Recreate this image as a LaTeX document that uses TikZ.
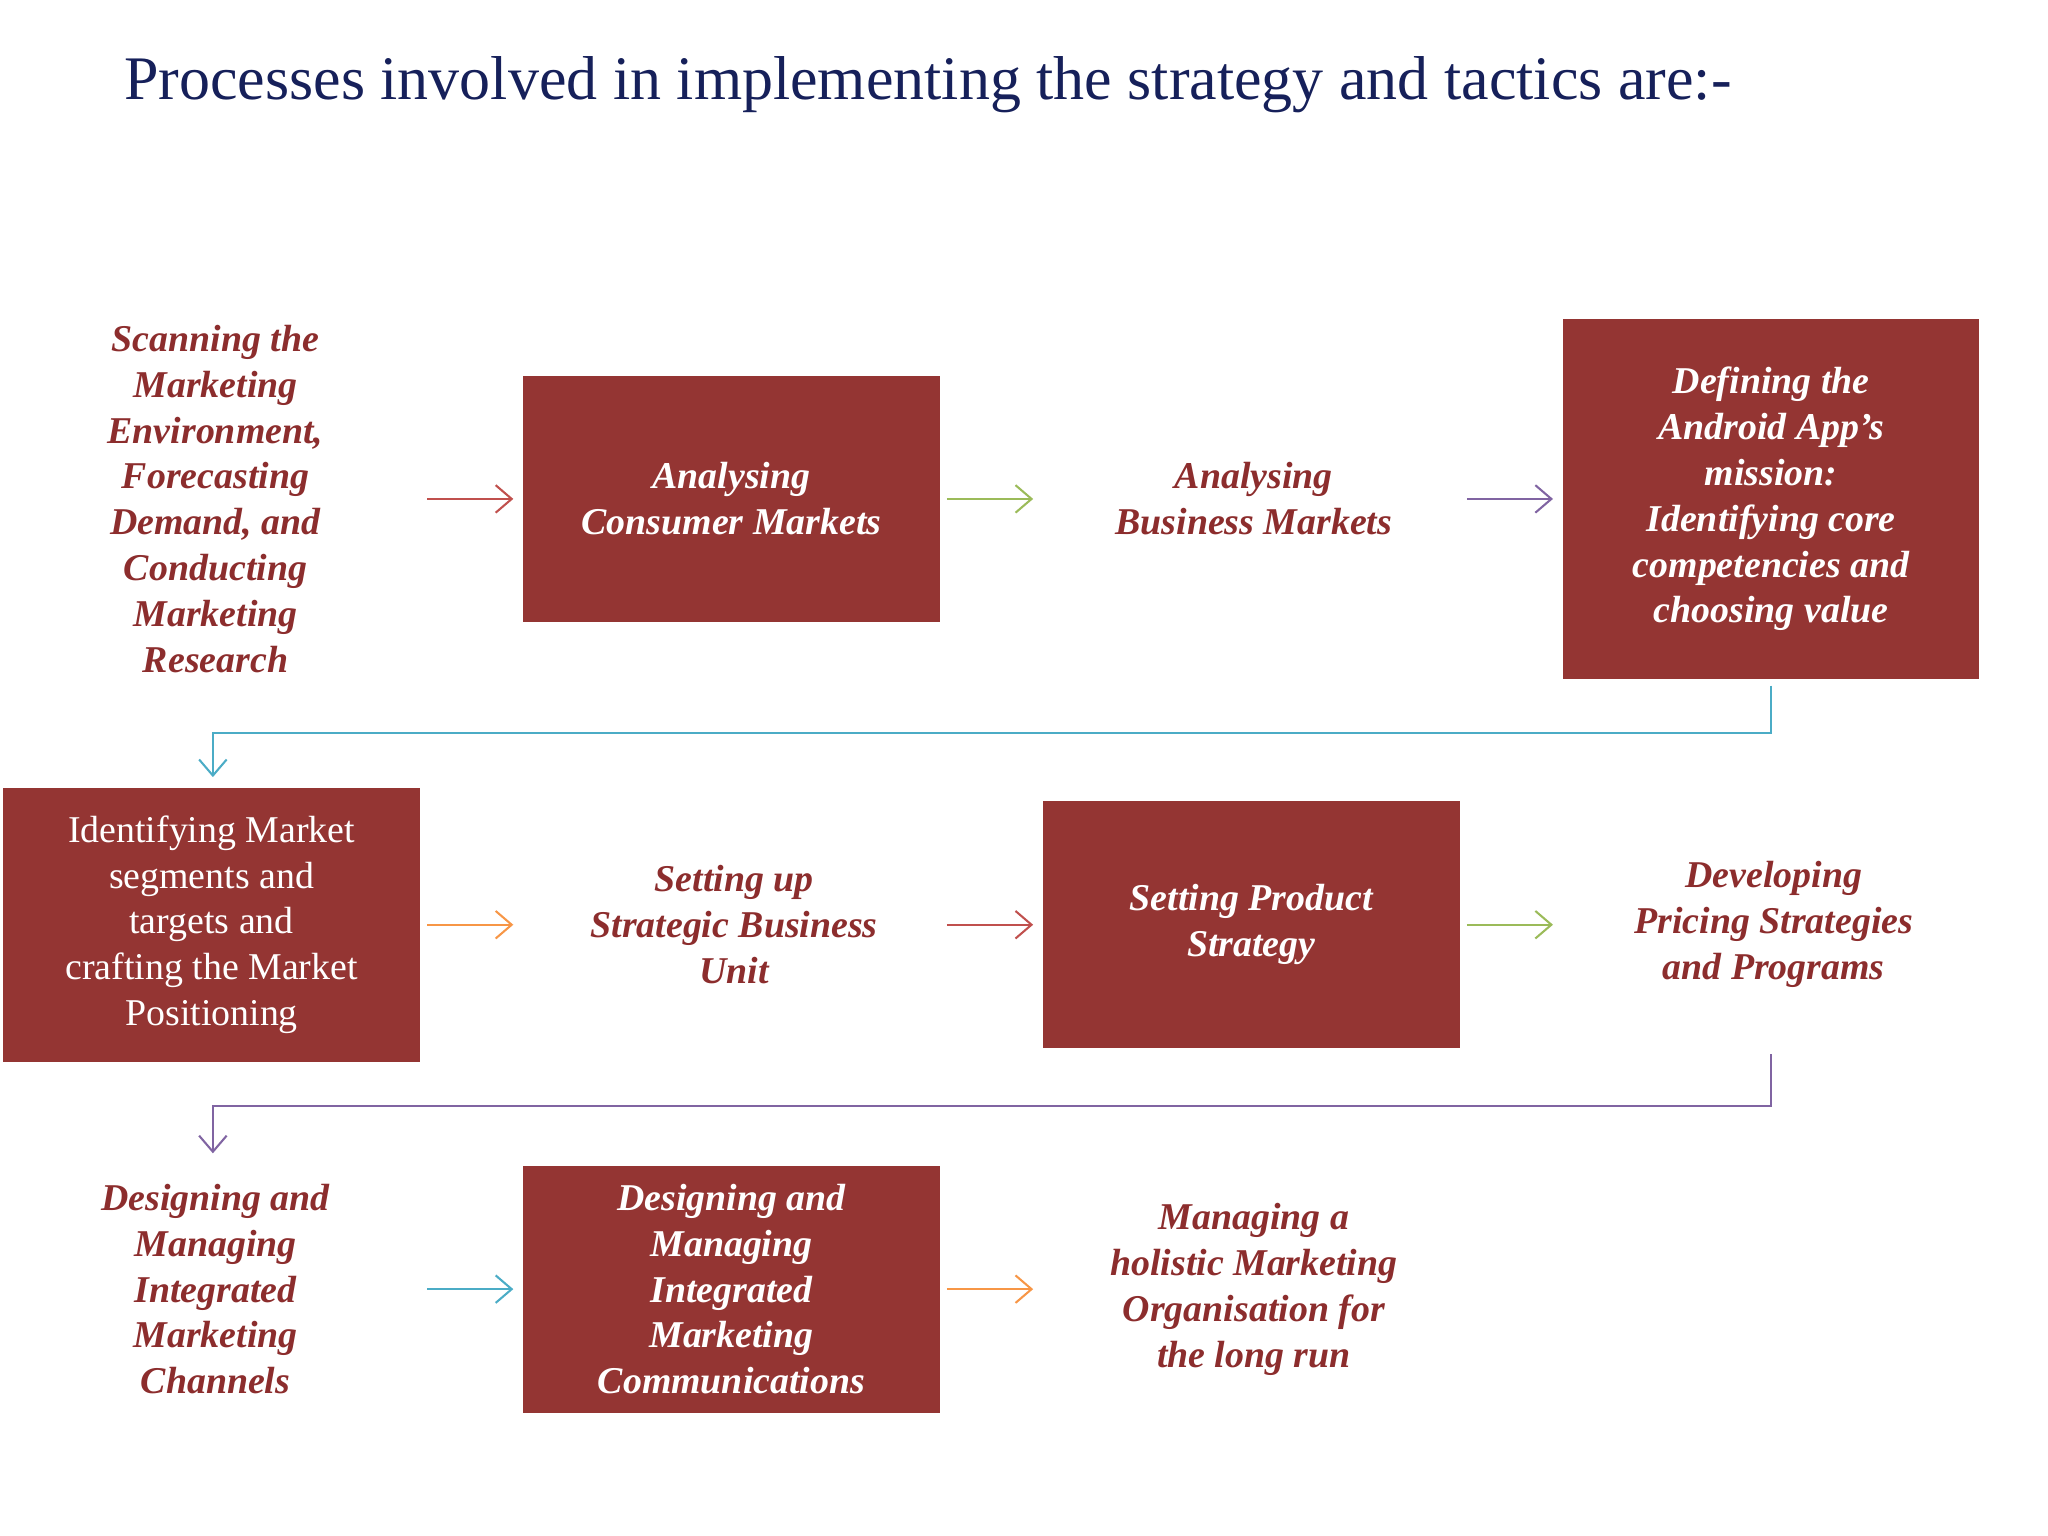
\documentclass[tikz,border=0pt]{standalone}
\usepackage{fontspec}
\setmainfont{Liberation Serif}
\usetikzlibrary{arrows.meta}
\definecolor{boxred}{RGB}{148,53,51}
\definecolor{txtred}{RGB}{140,45,45}
\definecolor{titleblue}{RGB}{22,32,90}
\definecolor{ared}{RGB}{192,80,77}
\definecolor{agreen}{RGB}{155,187,89}
\definecolor{apurple}{RGB}{128,100,162}
\definecolor{ateal}{RGB}{75,172,198}
\definecolor{aorange}{RGB}{247,150,70}
\tikzset{
 px/.style={x=0.02cm,y=-0.02cm},
 boxn/.style={fill=boxred,text=white,minimum width=6.38cm,minimum height=3.78cm,align=center,font=\fontsize{16.5}{20}\selectfont\bfseries\itshape,inner sep=0pt},
 txtn/.style={text=txtred,align=center,font=\fontsize{16.5}{20}\selectfont\bfseries\itshape},
 arr/.style={-{Straight Barb[length=7pt,width=12pt]},line width=0.9pt}
}
\begin{document}
\begin{tikzpicture}[px]
\useasboundingbox (0,0) rectangle (1568,1176);
\node[anchor=west,text=titleblue,font=\fontsize{27}{32}\selectfont] (title) at (89,65) {Processes involved in implementing the strategy and tactics are:-};
% row 1
\node[txtn] (scan) at (165,382) {Scanning the\\Marketing\\Environment,\\Forecasting\\Demand, and\\Conducting\\Marketing\\Research};
\node[boxn] (cons) at (560,382) {Analysing\\Consumer Markets};
\node[txtn] (bus) at (960,382) {Analysing\\Business Markets};
\node[boxn,minimum height=5.52cm] (def) at (1356,382) {Defining the\\Android App's\\mission:\\Identifying core\\competencies and\\choosing value};
% row 2
\node[boxn,minimum height=4.2cm,font=\fontsize{16.5}{20}\selectfont] (ident) at (162,708) {Identifying Market\\segments and\\targets and\\crafting the Market\\Positioning};
\node[txtn] (sbu) at (562,708) {Setting up\\Strategic Business\\Unit};
\node[boxn] (prod) at (958,708) {Setting Product\\Strategy};
\node[txtn] (price) at (1358,708) {Developing\\Pricing Strategies\\and Programs};
% row 3
\node[txtn] (chan) at (165,987) {Designing and\\Managing\\Integrated\\Marketing\\Channels};
\node[boxn] (comm) at (560,987) {Designing and\\Managing\\Integrated\\Marketing\\Communications};
\node[txtn] (hol) at (960,987) {Managing a\\holistic Marketing\\Organisation for\\the long run};
% arrow endpoints
\coordinate (a1) at (327,382); \coordinate (b1) at (393,382);
\coordinate (a2) at (725,382); \coordinate (b2) at (791,382);
\coordinate (a3) at (1123,382); \coordinate (b3) at (1189,382);
\coordinate (a4) at (327,708); \coordinate (b4) at (393,708);
\coordinate (a5) at (725,708); \coordinate (b5) at (791,708);
\coordinate (a6) at (1123,708); \coordinate (b6) at (1189,708);
\coordinate (a7) at (327,987); \coordinate (b7) at (393,987);
\coordinate (a8) at (725,987); \coordinate (b8) at (791,987);
\coordinate (c1) at (1356,525); \coordinate (d1) at (163,595);
\coordinate (c2) at (1356,807); \coordinate (d2) at (163,883);
\draw[arr,ared] (a1) -- (b1);
\draw[arr,agreen] (a2) -- (b2);
\draw[arr,apurple] (a3) -- (b3);
\draw[arr,aorange] (a4) -- (b4);
\draw[arr,ared] (a5) -- (b5);
\draw[arr,agreen] (a6) -- (b6);
\draw[arr,ateal] (a7) -- (b7);
\draw[arr,aorange] (a8) -- (b8);
\draw[arr,ateal] (c1) -- (1356,561) -- (163,561) -- (d1);
\draw[arr,apurple] (c2) -- (1356,847) -- (163,847) -- (d2);
\end{tikzpicture}
\end{document}
